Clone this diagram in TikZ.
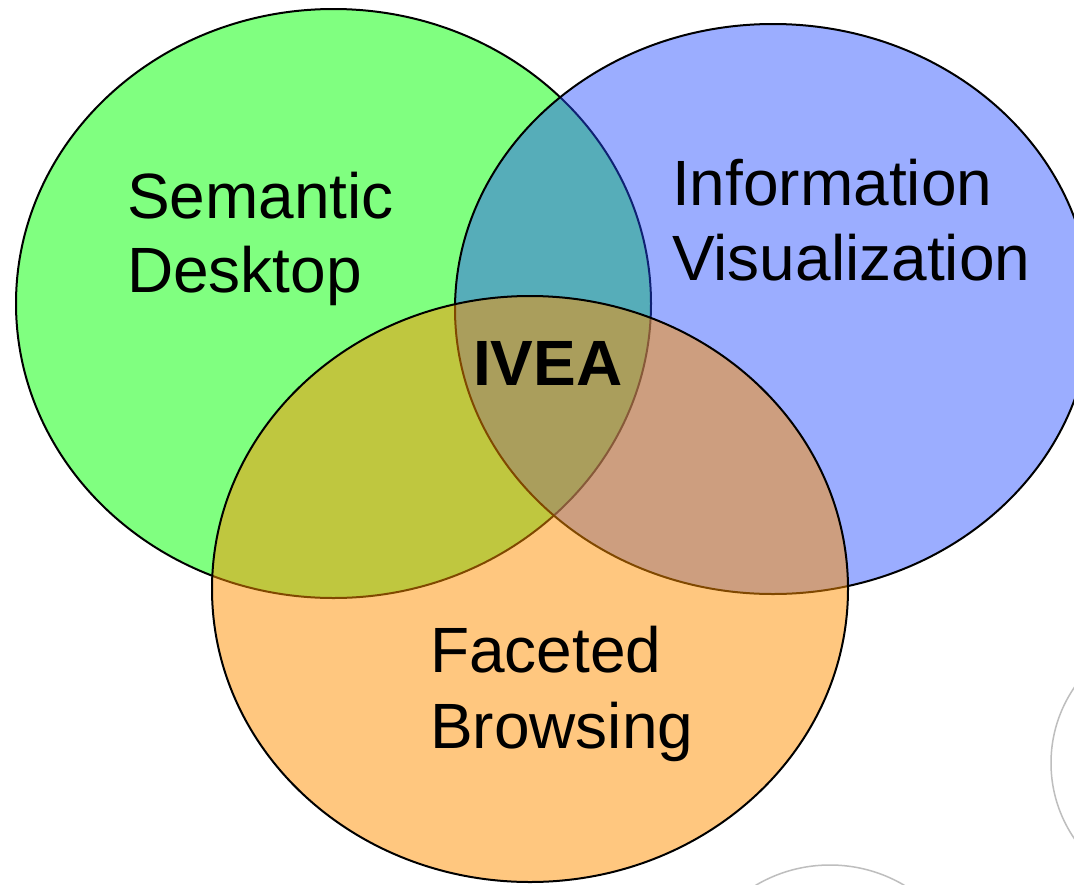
\documentclass[tikz,border=0pt]{standalone}
\usepackage{fontspec}
\setmainfont{Liberation Sans}
\definecolor{sdgreen}{RGB}{128,255,128}
\definecolor{ivblue}{RGB}{35,75,255}
\definecolor{fborange}{RGB}{255,145,0}
\definecolor{ghost}{RGB}{190,190,190}
\begin{document}
\begin{tikzpicture}[x=1pt,y=-1pt,
  lbl/.style={font=\fontsize{64}{74}\selectfont, anchor=base west, inner sep=0pt},
  setline/.style={draw=black, line width=2pt},
  ghostline/.style={draw=ghost, line width=1.5pt}]
\useasboundingbox (0,0) rectangle (1074,884);
\clip (0,0) rectangle (1074,884);
\fill[white] (0,0) rectangle (1074,884);
% faint circles at the bottom right
\draw[ghostline] (1185,763) circle[radius=134pt];
\draw[ghostline] (830,1011) circle[radius=146pt];
% the three sets
\path[setline, fill=sdgreen] (333.5,303.5) ellipse[x radius=317.5pt, y radius=294.5pt];
\path[setline, fill=ivblue, fill opacity=0.45] (773,309) ellipse[x radius=318pt, y radius=285pt];
\path[setline, fill=fborange, fill opacity=0.5] (530,589) ellipse[x radius=318pt, y radius=293pt];
% labels
\node[lbl] (sd1) at (127,218) {Semantic};
\node[lbl] (sd2) at (127,292) {Desktop};
\node[lbl] (iv1) at (672,205) {Information};
\node[lbl] (iv2) at (672,280) {Visualization};
\node[lbl, font=\fontsize{64}{74}\selectfont\bfseries] (ivea) at (473,385) {IVEA};
\node[lbl] (fb1) at (430,672) {Faceted};
\node[lbl] (fb2) at (430,748) {Browsing};
\end{tikzpicture}
\end{document}
